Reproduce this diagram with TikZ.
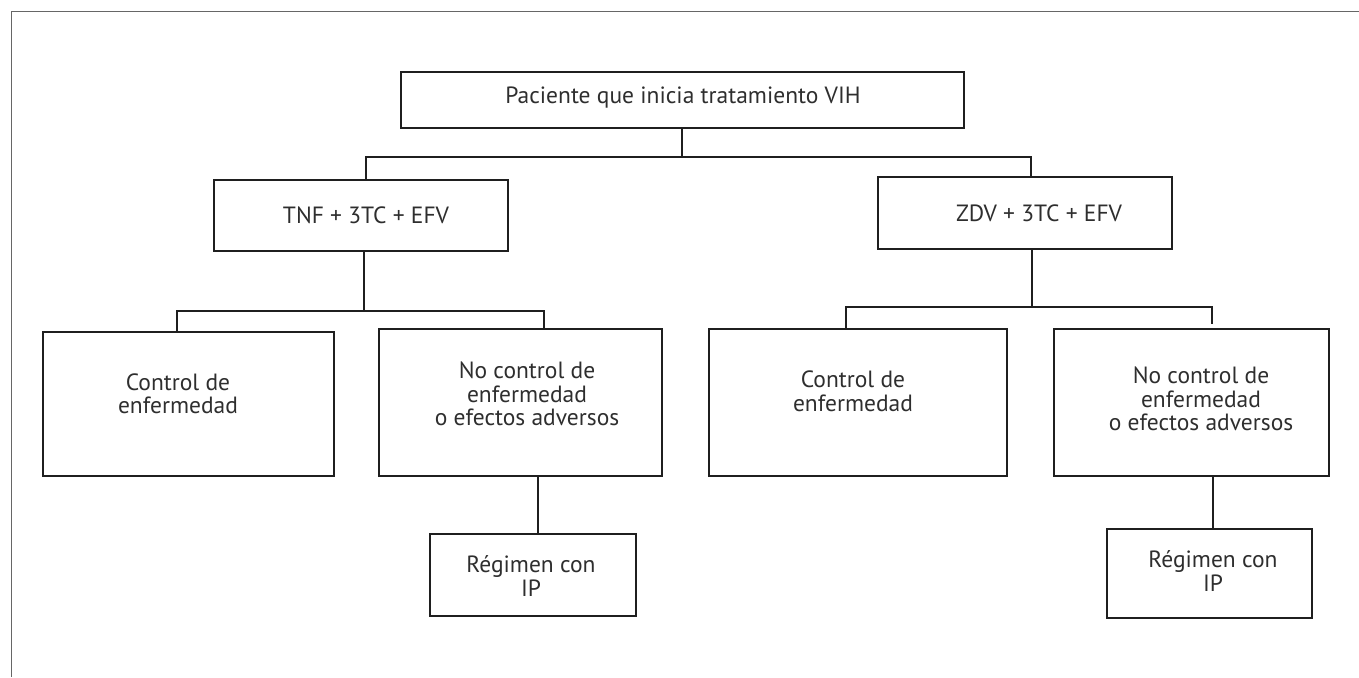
\documentclass[tikz,border=0pt]{standalone}
\usepackage{fontspec}
\setmainfont{PT Sans}
\begin{document}
\begin{tikzpicture}[x=1pt,y=-1pt,
  box/.style={draw=black!88,line width=1.7pt,rectangle,inner sep=0pt},
  lbl/.style={align=center,font=\fontsize{23.5}{23.5}\selectfont,text=black!82,inner sep=0pt},
  conn/.style={draw=black!88,line width=1.6pt},
  frame/.style={draw=black!60,line width=1pt}]
\useasboundingbox (0,0) rectangle (1359,677);
% partial frame
\coordinate (fTL) at (11.5,11.5);
\coordinate (fTR) at (1359,11.5);
\coordinate (fBL) at (11.5,677);
\draw[frame] (fTR) -- (fTL) -- (fBL);
% boxes
\node[box,minimum width=563pt,minimum height=56pt] (top) at (682.5,100) {};
\node[box,minimum width=294pt,minimum height=71pt] (tnf) at (361,215.5) {};
\node[box,minimum width=294pt,minimum height=72pt] (zdv) at (1025,213) {};
\node[box,minimum width=291pt,minimum height=144pt] (c1) at (188.5,404) {};
\node[box,minimum width=283pt,minimum height=147pt] (n1) at (520.5,402.5) {};
\node[box,minimum width=206pt,minimum height=82pt] (r1) at (533,575) {};
\node[box,minimum width=298pt,minimum height=147pt] (c2) at (858,402.5) {};
\node[box,minimum width=275pt,minimum height=147pt] (n2) at (1191.5,402.5) {};
\node[box,minimum width=205pt,minimum height=89pt] (r2) at (1209.5,573.5) {};
% labels
\node[lbl] (ttop) at (683,98) {Paciente que inicia tratamiento VIH};
\node[lbl] (ttnf) at (366,215) {TNF + 3TC + EFV};
\node[lbl] (tzdv) at (1039,213) {ZDV + 3TC + EFV};
\node[lbl] (tc1) at (178,394) {Control de\\enfermedad};
\node[lbl] (tn1) at (527,394) {No control de\\enfermedad\\o efectos adversos};
\node[lbl] (tr1) at (531,576) {Régimen con\\IP};
\node[lbl] (tc2) at (853,391.5) {Control de\\enfermedad};
\node[lbl] (tn2) at (1201,399) {No control de\\enfermedad\\o efectos adversos};
\node[lbl] (tr2) at (1213,571) {Régimen con\\IP};
% connector points
\coordinate (s0) at (682,157);
\coordinate (bL) at (366,157);
\coordinate (bR) at (1031,157);
\coordinate (s1) at (364,311);
\coordinate (b1L) at (177,311);
\coordinate (b1R) at (544,311);
\coordinate (s2) at (1032,307);
\coordinate (b2L) at (846,307);
\coordinate (b2R) at (1212,307);
\coordinate (b2Rend) at (1212,324);
\coordinate (s3) at (538,0);
\coordinate (s4) at (1213,0);
% connectors
\draw[conn] (top.south -| s0) -- (s0);
\draw[conn] (tnf.north -| bL) -- (bL) -- (bR) -- (zdv.north -| bR);
\draw[conn] (tnf.south -| s1) -- (s1);
\draw[conn] (c1.north -| b1L) -- (b1L) -- (b1R) -- (n1.north -| b1R);
\draw[conn] (zdv.south -| s2) -- (s2);
\draw[conn] (c2.north -| b2L) -- (b2L) -- (b2R) -- (b2Rend);
\draw[conn] (n1.south -| s3) -- (r1.north -| s3);
\draw[conn] (n2.south -| s4) -- (r2.north -| s4);
\end{tikzpicture}
\end{document}
